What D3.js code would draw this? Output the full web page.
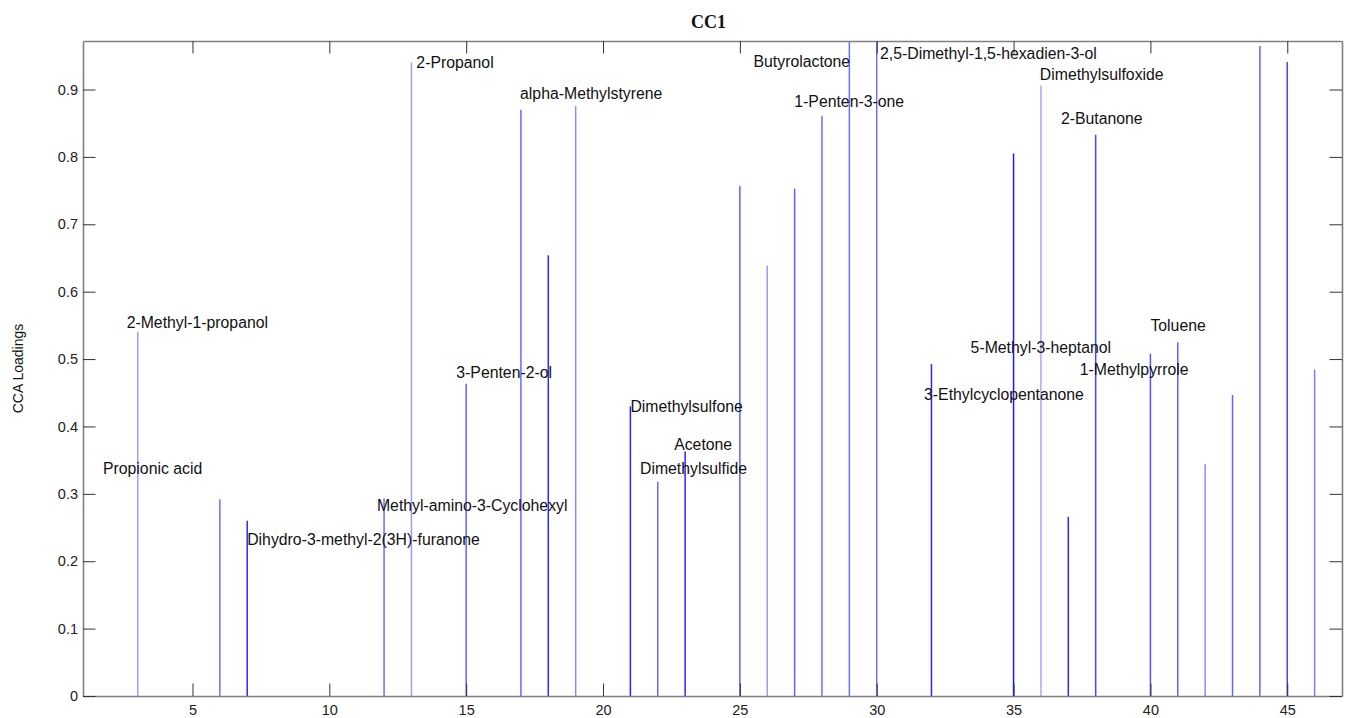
<!DOCTYPE html>
<html>
<head>
<meta charset="utf-8">
<script src="https://cdn.jsdelivr.net/npm/d3@7"></script>
<style>
  html, body { margin: 0; padding: 0; background: #fff; }
  svg { display: block; }
  text { font-family: Arial, "Liberation Sans", sans-serif; }
</style>
</head>
<body>
<svg id="chart" width="1352" height="718"></svg>
<script>
// ---- data ----
const indices = [3, 6, 7, 12, 13, 15, 17, 18, 19, 21, 22, 23, 25, 26, 27, 28, 29, 30, 32, 35, 36, 37, 38, 40, 41, 42, 43, 44, 45, 46];
const loadings = [0.540, 0.292, 0.260, 0.293, 0.940, 0.4635, 0.870, 0.654, 0.875, 0.430, 0.318, 0.363, 0.757, 0.639, 0.753, 0.861, 0.985, 0.980, 0.4926, 0.805, 0.906, 0.266, 0.833, 0.508, 0.525, 0.344, 0.4466, 0.9644, 0.941, 0.4847];
// intensity of each stem's colour (0 = pale, 1 = saturated)
const intensity = [0.28, 0.5, 0.82, 0.52, 0.3, 0.56, 0.53, 0.8, 0.37, 0.85, 0.53, 0.82, 0.56, 0.3, 0.56, 0.5, 0.5, 0.5, 0.82, 0.88, 0.24, 0.82, 0.68, 0.62, 0.56, 0.37, 0.56, 0.56, 0.68, 0.44];

const labelNames = ["2-Methyl-1-propanol", "Propionic acid", "Dihydro-3-methyl-2(3H)-furanone", "Methyl-amino-3-Cyclohexyl",
  "2-Propanol", "alpha-Methylstyrene", "Butyrolactone", "1-Penten-3-one", "2,5-Dimethyl-1,5-hexadien-3-ol",
  "Dimethylsulfoxide", "2-Butanone", "Toluene", "5-Methyl-3-heptanol", "1-Methylpyrrole", "3-Ethylcyclopentanone",
  "3-Penten-2-ol", "Dimethylsulfone", "Acetone", "Dimethylsulfide"];
const labelX = [2.595, 1.73, 7.0, 11.74, 13.18, 16.97, 25.5, 26.99, 30.12, 35.96, 36.73, 40.0, 33.43, 37.42, 31.73, 14.64, 21.0, 22.6, 21.35];
const labelY = [0.5545, 0.3374, 0.2325, 0.282, 0.9398, 0.8938, 0.9417, 0.8823, 0.953, 0.9224, 0.8567, 0.55, 0.5178, 0.4843, 0.4472, 0.4807, 0.4298, 0.3739, 0.3374];

const xTicks = [5, 10, 15, 20, 25, 30, 35, 40, 45];
const yTicks = [0, 0.1, 0.2, 0.3, 0.4, 0.5, 0.6, 0.7, 0.8, 0.9];
const xDomain = [1, 47];
const yDomain = [0, 0.972];
const titleText = "CC1";
const yLabelText = "CCA Loadings";

// ---- layout ----
const W = 1352, H = 718;
const m = { left: 83, right: 10, top: 41, bottom: 22 };
const svg = d3.select("#chart");
const x = d3.scaleLinear().domain(xDomain).range([m.left, W - m.right]);
const y = d3.scaleLinear().domain(yDomain).range([H - m.bottom, m.top]);
const color = d3.scaleLinear().domain([0, 1]).range(["#dcdcff", "#0000ff"]);

svg.append("defs").append("clipPath").attr("id", "clip")
  .append("rect").attr("x", m.left).attr("y", m.top)
  .attr("width", W - m.left - m.right).attr("height", H - m.top - m.bottom);

// stems
const data = indices.map((d, i) => ({ i: d, v: loadings[i], c: intensity[i] }));
svg.append("g").attr("clip-path", "url(#clip)")
  .selectAll("line").data(data).join("line")
  .attr("x1", d => x(d.i)).attr("x2", d => x(d.i))
  .attr("y1", y(0)).attr("y2", d => y(d.v))
  .attr("stroke", d => color(d.c))
  .attr("stroke-width", 1.5);

// axes (MATLAB-style box with inward ticks)
const tickLen = 12.5;
const fmt = d => d === 0 ? "0" : d3.format(".1f")(d);
const axB = svg.append("g").attr("transform", `translate(0,${y(0)})`)
  .call(d3.axisBottom(x).tickValues(xTicks).tickSizeInner(-tickLen).tickSizeOuter(0).tickPadding(6));
const axT = svg.append("g").attr("transform", `translate(0,${m.top})`)
  .call(d3.axisTop(x).tickValues(xTicks).tickSizeInner(-tickLen).tickSizeOuter(0).tickFormat(""));
const axL = svg.append("g").attr("transform", `translate(${m.left},0)`)
  .call(d3.axisLeft(y).tickValues(yTicks).tickSizeInner(-tickLen).tickSizeOuter(0).tickPadding(5).tickFormat(fmt));
const axR = svg.append("g").attr("transform", `translate(${W - m.right},0)`)
  .call(d3.axisRight(y).tickValues(yTicks).tickSizeInner(-tickLen).tickSizeOuter(0).tickFormat(""));

[axB, axT, axL, axR].forEach(g => {
  g.select(".domain").attr("stroke", "#808080").attr("stroke-width", 1.6);
  g.selectAll(".tick line").attr("stroke", "#333").attr("stroke-width", 1);
  g.selectAll(".tick text").attr("fill", "#222").style("font-size", "14.5px")
    .style("font-family", "Arial, 'Liberation Sans', sans-serif");
});
axB.selectAll(".tick text").attr("dy", "0.9em");

// labels
svg.append("g").selectAll("text").data(labelNames).join("text")
  .attr("x", (d, i) => x(labelX[i]))
  .attr("y", (d, i) => y(labelY[i]))
  .attr("dy", "0.35em")
  .attr("fill", "#111")
  .style("font-size", "15.8px")
  .text(d => d);

// title
svg.append("text").attr("x", (m.left + W - m.right) / 2 - 4).attr("y", 22)
  .attr("dy", "0.35em").attr("text-anchor", "middle")
  .style("font-family", "'Liberation Serif', 'Times New Roman', serif")
  .style("font-weight", "bold").style("font-size", "18px").attr("fill", "#111")
  .text(titleText);

// y label
svg.append("text")
  .attr("transform", `translate(18,${(m.top + H - m.bottom) / 2}) rotate(-90)`)
  .attr("text-anchor", "middle").attr("dy", "0.35em")
  .style("font-size", "14px").attr("fill", "#111")
  .text(yLabelText);
</script>
</body>
</html>
